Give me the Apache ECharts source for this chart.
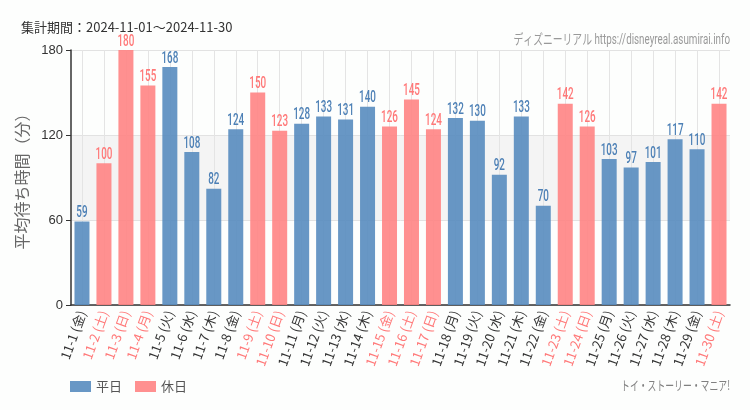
<!DOCTYPE html>
<html><head><meta charset="utf-8">
<script src="https://cdn.jsdelivr.net/npm/echarts@6/dist/echarts.min.js"></script>
<style>html,body{margin:0;padding:0;background:#fdfefd}#c{width:750px;height:410px}</style>
</head><body><div id="c"></div>
<script>
const days = ['11-1','11-2','11-3','11-4','11-5','11-6','11-7','11-8','11-9','11-10','11-11','11-12','11-13','11-14','11-15','11-16','11-17','11-18','11-19','11-20','11-21','11-22','11-23','11-24','11-25','11-26','11-27','11-28','11-29','11-30'];
const weekdays = ['金','土','日','月','火','水','木','金','土','日','月','火','水','木','金','土','日','月','火','水','木','金','土','日','月','火','水','木','金','土'];
const values = [59,100,180,155,168,108,82,124,150,123,128,133,131,140,126,145,124,132,130,92,133,70,142,126,103,97,101,117,110,142];
const isHoliday = [0,1,1,1,0,0,0,0,1,1,0,0,0,0,1,1,1,0,0,0,0,0,1,1,0,0,0,0,0,1];
const yTicks = [0,60,120,180];
const seriesNames = ['平日','休日'];

const BLUE='#588cbf', PINK='#ff8484', BLUE_T='#4d80b6', PINK_T='#ff7878';
const CJK = '"Noto Sans CJK JP",sans-serif';
const cats = days.map((d,i)=>({value:d+' ('+weekdays[i]+')', textStyle:{color:isHoliday[i]?PINK_T:'#333'}}));
const wk = values.map((v,i)=>isHoliday[i]?'-':v);
const hd = values.map((v,i)=>isHoliday[i]?v:'-');
const labelData = values.map((v,i)=>[i, v, isHoliday[i]]);
const chart = echarts.init(document.getElementById('c'));
chart.setOption({
  animation:false,
  backgroundColor:'#fdfefd',
  title:[
    {text:'集計期間：2024-11-01～2024-11-30', left:16, top:16, textStyle:{fontSize:13, fontWeight:'normal', color:'#333', fontFamily:CJK}}
  ],
  graphic:[
    {type:'text', x:730, y:40, scaleX:0.7, silent:true, style:{text:'ディズニーリアル https://disneyreal.asumirai.info', align:'right', verticalAlign:'middle', fill:'#999', font:'14px Roboto, "Noto Sans CJK JP", sans-serif'}},
    {type:'text', x:730, y:385, scaleX:0.68, silent:true, style:{text:'トイ・ストーリー・マニア!', align:'right', verticalAlign:'middle', fill:'#808080', font:'13px "Noto Sans CJK JP", sans-serif'}}
  ],
  legend:{left:65, top:375, itemWidth:21, itemHeight:11, itemGap:13, icon:'rect', textStyle:{fontSize:13, color:'#555', fontFamily:CJK}, data:seriesNames},
  grid:{left:71, right:20, top:50, bottom:105},
  xAxis:{type:'category', data:cats,
    axisLine:{lineStyle:{color:'#333', width:1.5}},
    axisTick:{alignWithLabel:true, length:5, lineStyle:{color:'#333'}},
    splitLine:{show:true, alignWithLabel:true, lineStyle:{color:'#e4e4e4'}},
    axisLabel:{rotate:70, fontSize:13, interval:0, margin:6, fontFamily:CJK}},
  yAxis:{type:'value', min:0, max:180, interval:60,
    name:'平均待ち時間（分）', nameLocation:'middle', nameGap:33, nameRotate:90,
    nameTextStyle:{fontSize:16, color:'#666', fontFamily:CJK},
    axisLine:{show:true, lineStyle:{color:'#333', width:1.5}},
    axisTick:{show:true, length:5, lineStyle:{color:'#333'}},
    axisLabel:{fontSize:13, color:'#333', margin:8, formatter:v=>yTicks.includes(v)?String(v):''},
    splitLine:{lineStyle:{color:'#e2e2e2'}},
    splitArea:{show:true, areaStyle:{color:['rgba(0,0,0,0)','#f4f4f4']}}},
  series:[
    {name:seriesNames[0], type:'bar', data:wk, barWidth:15, barGap:'-100%', itemStyle:{color:BLUE, opacity:0.9}},
    {name:seriesNames[1], type:'bar', data:hd, barWidth:15, itemStyle:{color:PINK, opacity:0.9}},
    {name:'labels', type:'custom', data:labelData, z:5, silent:true,
      renderItem:(params, api)=>{
        const p = api.coord([api.value(0), api.value(1)]);
        return {type:'text', x:p[0], y:p[1]-8.5, scaleX:0.6,
          style:{text:String(api.value(1)), align:'center', verticalAlign:'middle',
            fill: api.value(2) ? PINK_T : BLUE_T, font:'500 16.5px Roboto, sans-serif'}};
      }}
  ]
});
</script></body></html>
